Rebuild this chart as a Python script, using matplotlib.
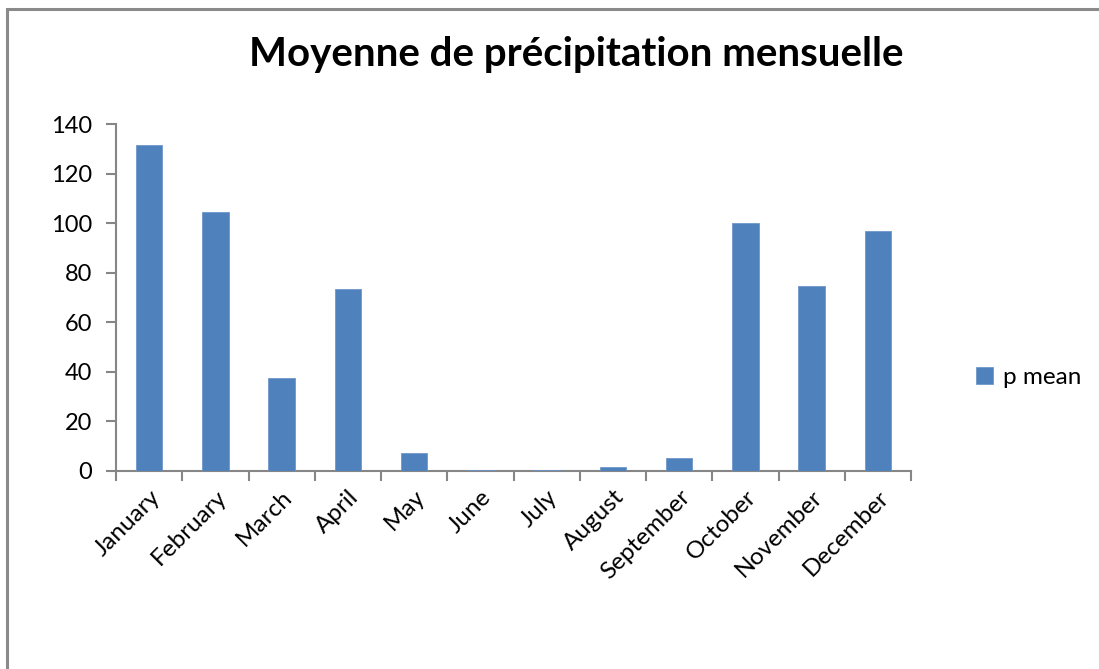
import numpy as np
import matplotlib
matplotlib.use("Agg")
import matplotlib.pyplot as plt
from matplotlib.patches import Rectangle

plt.rcParams['font.family'] = ['Lato', 'DejaVu Sans']

# monthly mean precipitation
months = ['January', 'February', 'March', 'April', 'May', 'June', 'July',
          'August', 'September', 'October', 'November', 'December']
p_mean = [131.5, 104.5, 37.5, 73.4, 7.4, 0.5, 0.2, 1.6, 5.3, 100.2, 74.8, 96.8]
yticks = [0, 20, 40, 60, 80, 100, 120, 140]

fig = plt.figure(figsize=(10.99, 6.69), dpi=100)
ax = fig.add_axes([0.1056, 0.296, 0.7234, 0.5186])

x = np.arange(len(months))
ax.bar(x, p_mean, width=0.4, color='#4F81BD', edgecolor='#6f97c9', linewidth=0.6,
       label='p mean', zorder=3)

ax.set_xlim(-0.5, len(months) - 0.5)
ax.set_ylim(0, 140)
ax.set_yticks(yticks)
ax.set_yticklabels([str(v) for v in yticks], fontsize=17)

# ticks at category boundaries, labels at centres
ax.set_xticks(np.arange(len(months) + 1) - 0.5)
ax.set_xticklabels([])
ax.set_xticks(x, minor=True)
ax.set_xticklabels(months, minor=True, rotation=45, ha='right',
                   rotation_mode='anchor', fontsize=17.5)
ax.tick_params(axis='x', which='major', length=7, width=1.5, color='#868686')
ax.tick_params(axis='x', which='minor', length=0, pad=11)
ax.tick_params(axis='y', length=7, width=1.5, color='#868686', pad=10)

for s in ['top', 'right']:
    ax.spines[s].set_visible(False)
for s in ['left', 'bottom']:
    ax.spines[s].set_color('#868686')
    ax.spines[s].set_linewidth(1.5)

fig.text(0.524, 0.918, 'Moyenne de précipitation mensuelle', ha='center',
         va='center', fontsize=29, fontweight='bold')

ax.legend(loc='center left', bbox_to_anchor=(0.868, 0.435),
          bbox_transform=fig.transFigure, frameon=False, fontsize=17.5,
          handlelength=0.7, handleheight=0.7, handletextpad=0.4)

# outer chart border (cropped on right and bottom)
fig.patches.append(Rectangle((0.0064, -0.1), 1.2, 1.0865, transform=fig.transFigure,
                             fill=False, edgecolor='#8a8a8a', linewidth=2.2))

fig.savefig('out.png', dpi=100)
